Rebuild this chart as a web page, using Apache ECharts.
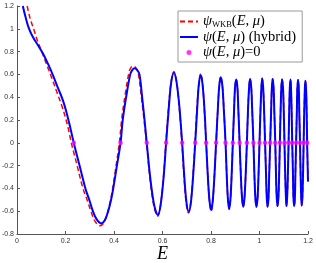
<!DOCTYPE html>
<html><head><meta charset="utf-8">
<script src="https://cdn.jsdelivr.net/npm/echarts@6/dist/echarts.min.js"></script>
<style>html,body{margin:0;padding:0;background:#fff}#c{width:316px;height:263px}</style>
</head><body><div id="c"></div>
<script>
// Axis ticks
const xTicks = [0, 0.2, 0.4, 0.6, 0.8, 1, 1.2];
const yTicks = [-0.8, -0.6, -0.4, -0.2, 0, 0.2, 0.4, 0.6, 0.8, 1, 1.2];

// psi(E, mu) (hybrid) — blue solid
const hybridE = [
  0.024, 0.035, 0.049, 0.065, 0.086, 0.107, 0.127, 0.148, 0.168, 0.189, 0.205, 0.220, 0.234,
  0.247, 0.258, 0.282, 0.298, 0.313, 0.328, 0.347, 0.362, 0.376, 0.388, 0.397, 0.412, 0.427,
  0.436, 0.450, 0.467, 0.476, 0.485, 0.495, 0.505, 0.516, 0.526, 0.535,
  0.550, 0.566, 0.581, 0.592, 0.604, 0.615,
  0.626, 0.636, 0.647, 0.658, 0.670, 0.681,
  0.690, 0.699, 0.708, 0.717, 0.726, 0.735,
  0.743, 0.750, 0.758, 0.765, 0.773, 0.780,
  0.787, 0.794, 0.801, 0.807, 0.814, 0.821,
  0.828, 0.834, 0.840, 0.847, 0.853, 0.860,
  0.865, 0.870, 0.875, 0.880, 0.885, 0.890,
  0.895, 0.899, 0.904, 0.909, 0.913, 0.918,
  0.923, 0.928, 0.933, 0.938, 0.943, 0.948,
  0.9525, 0.957, 0.961, 0.966, 0.970, 0.975,
  0.979, 0.983, 0.987, 0.992, 0.996, 1.000,
  1.004, 1.008, 1.011, 1.015, 1.019, 1.023,
  1.027, 1.030, 1.033, 1.037, 1.040, 1.044,
  1.048, 1.051, 1.054, 1.058, 1.061, 1.065,
  1.068, 1.071, 1.074, 1.078, 1.081, 1.084,
  1.087, 1.090, 1.093, 1.097, 1.100, 1.103,
  1.106, 1.109, 1.111, 1.114, 1.117, 1.120,
  1.1225, 1.125, 1.128, 1.130, 1.1325, 1.135,
  1.138, 1.140, 1.143, 1.146, 1.148, 1.151,
  1.154, 1.156, 1.159, 1.162, 1.164, 1.167,
  1.1695, 1.172, 1.174, 1.177, 1.1795, 1.182,
  1.1845, 1.187, 1.189, 1.192, 1.1945, 1.1965, 1.200
];
const hybridPsi = [
  1.20, 1.105, 1.003, 0.930, 0.857, 0.784, 0.696, 0.594, 0.486, 0.375, 0.26, 0.13, 0,
  -0.11, -0.2, -0.4, -0.5, -0.6, -0.67, -0.707, -0.68, -0.6, -0.5, -0.4, -0.2, 0,
  0.2, 0.4, 0.6, 0.64, 0.653, 0.64, 0.6, 0.4, 0.2, 0,
  -0.317, -0.549, -0.634, -0.549, -0.317, 0,
  0.307, 0.532, 0.614, 0.532, 0.307, 0,
  -0.30, -0.524, -0.605, -0.524, -0.30, 0,
  0.297, 0.514, 0.594, 0.514, 0.297, 0,
  -0.295, -0.511, -0.59, -0.511, -0.295, 0,
  0.287, 0.497, 0.574, 0.497, 0.287, 0,
  -0.29, -0.501, -0.579, -0.501, -0.29, 0,
  0.278, 0.482, 0.556, 0.482, 0.278, 0,
  -0.28, -0.485, -0.56, -0.485, -0.28, 0,
  0.28, 0.485, 0.56, 0.485, 0.28, 0,
  -0.28, -0.485, -0.56, -0.485, -0.28, 0,
  0.28, 0.49, 0.565, 0.49, 0.28, 0,
  -0.28, -0.485, -0.56, -0.485, -0.28, 0,
  0.28, 0.485, 0.56, 0.485, 0.28, 0,
  -0.278, -0.48, -0.555, -0.48, -0.278, 0,
  0.278, 0.48, 0.555, 0.48, 0.278, 0,
  -0.278, -0.48, -0.555, -0.48, -0.278, 0,
  0.278, 0.48, 0.555, 0.48, 0.278, 0,
  -0.278, -0.48, -0.555, -0.48, -0.278, 0,
  0.275, 0.476, 0.55, 0.476, 0.275, 0,
  -0.275, -0.476, -0.55, -0.476, -0.275, 0,
  0.272, 0.472, 0.545, 0.472, 0.272, 0, -0.34
];

// psi_WKB(E, mu) — red dashed
const wkbE = [
  0.042, 0.054, 0.068, 0.086, 0.104, 0.123, 0.144, 0.164, 0.184, 0.200, 0.2125, 0.224,
  0.236, 0.248, 0.272, 0.289, 0.305, 0.322, 0.343, 0.358, 0.372, 0.384, 0.393, 0.408, 0.422,
  0.432, 0.446, 0.462, 0.470, 0.479, 0.489, 0.500, 0.513, 0.524, 0.534,
  0.549, 0.565, 0.580, 0.591, 0.603, 0.614,
  0.625, 0.636, 0.647, 0.658, 0.669, 0.680,
  0.689, 0.698, 0.707, 0.716, 0.725, 0.734,
  0.742, 0.750, 0.757, 0.765, 0.772, 0.780,
  0.787, 0.794, 0.801, 0.807, 0.814, 0.821,
  0.828, 0.834, 0.840, 0.847, 0.853, 0.860,
  0.865, 0.870, 0.875, 0.880, 0.885, 0.890,
  0.895, 0.899, 0.904, 0.909, 0.913, 0.918,
  0.923, 0.928, 0.933, 0.938, 0.943, 0.948,
  0.9525, 0.957, 0.961, 0.966, 0.970, 0.975,
  0.979, 0.983, 0.987, 0.992, 0.996, 1.000,
  1.004, 1.008, 1.011, 1.015, 1.019, 1.023,
  1.027, 1.030, 1.033, 1.037, 1.040, 1.044,
  1.048, 1.051, 1.054, 1.058, 1.061, 1.065,
  1.068, 1.071, 1.074, 1.078, 1.081, 1.084,
  1.087, 1.090, 1.093, 1.097, 1.100, 1.103,
  1.106, 1.109, 1.111, 1.114, 1.117, 1.120,
  1.1225, 1.125, 1.128, 1.130, 1.1325, 1.135,
  1.138, 1.140, 1.143, 1.146, 1.148, 1.151,
  1.154, 1.156, 1.159, 1.162, 1.164, 1.167,
  1.1695, 1.172, 1.174, 1.177, 1.1795, 1.182,
  1.1845, 1.187, 1.189, 1.192, 1.1945, 1.1965, 1.200
];
const wkbPsi = [
  1.20, 1.091, 1.003, 0.886, 0.79, 0.682, 0.565, 0.447, 0.33, 0.22, 0.115, 0,
  -0.1, -0.2, -0.4, -0.5, -0.6, -0.69, -0.728, -0.70, -0.62, -0.52, -0.42, -0.21, 0,
  0.21, 0.42, 0.62, 0.66, 0.672, 0.66, 0.61, 0.4, 0.2, 0,
  -0.325, -0.56, -0.645, -0.56, -0.325, 0,
  0.313, 0.541, 0.625, 0.541, 0.313, 0,
  -0.308, -0.533, -0.615, -0.533, -0.308, 0,
  0.303, 0.524, 0.605, 0.524, 0.303, 0,
  -0.30, -0.52, -0.60, -0.52, -0.30, 0,
  0.291, 0.504, 0.582, 0.504, 0.291, 0,
  -0.293, -0.507, -0.585, -0.507, -0.293, 0,
  0.28, 0.485, 0.56, 0.485, 0.28, 0,
  -0.282, -0.488, -0.563, -0.488, -0.282, 0,
  0.282, 0.488, 0.563, 0.488, 0.282, 0,
  -0.282, -0.488, -0.563, -0.488, -0.282, 0,
  0.282, 0.49, 0.566, 0.49, 0.282, 0,
  -0.281, -0.486, -0.561, -0.486, -0.281, 0,
  0.281, 0.486, 0.561, 0.486, 0.281, 0,
  -0.279, -0.482, -0.557, -0.482, -0.279, 0,
  0.279, 0.482, 0.557, 0.482, 0.279, 0,
  -0.279, -0.482, -0.557, -0.482, -0.279, 0,
  0.279, 0.482, 0.557, 0.482, 0.279, 0,
  -0.279, -0.482, -0.557, -0.482, -0.279, 0,
  0.276, 0.478, 0.552, 0.478, 0.276, 0,
  -0.276, -0.478, -0.552, -0.478, -0.276, 0,
  0.273, 0.473, 0.546, 0.473, 0.273, 0, -0.34
];

// psi(E, mu) = 0 — magenta dots
const zeroE = [0.234, 0.427, 0.535, 0.615, 0.681, 0.735, 0.780, 0.821, 0.860, 0.890,
  0.918, 0.948, 0.975, 1.000, 1.023, 1.044, 1.065, 1.084, 1.103, 1.120,
  1.135, 1.151, 1.167, 1.182, 1.197];
const zeroPsi = [0, 0, 0, 0, 0, 0, 0, 0, 0, 0, 0, 0, 0, 0, 0, 0, 0, 0, 0, 0, 0, 0, 0, 0, 0];

const pairs = (xs, ys) => xs.map((x, i) => [x, ys[i]]);

const SERIF = '"Liberation Serif", "DejaVu Serif", serif';
const LBL = '"Liberation Sans", Arial, sans-serif';
const FS = 14.5;

const chart = echarts.init(document.getElementById('c'), null, {renderer: 'canvas'});
chart.setOption({
  animation: false,
  backgroundColor: '#fff',
  grid: {left: 17, right: 8, top: 6, bottom: 29, containLabel: false, outerBoundsMode: 'none'},
  xAxis: {
    type: 'value',
    min: xTicks[0], max: xTicks[xTicks.length - 1], interval: 0.2,
    name: 'E', nameLocation: 'middle', nameGap: 11, nameMoveOverlap: false,
    nameTextStyle: {fontFamily: SERIF, fontStyle: 'italic', fontSize: 18, color: '#000', lineHeight: 18},
    axisLine: {show: true, onZero: false, lineStyle: {color: '#555', width: 1}},
    axisTick: {show: true, inside: true, length: 3, lineStyle: {color: '#555'}},
    axisLabel: {fontSize: 7, color: '#333', fontFamily: LBL, margin: 4},
    splitLine: {show: false}
  },
  yAxis: {
    type: 'value',
    min: yTicks[0], max: yTicks[yTicks.length - 1], interval: 0.2,
    axisLine: {show: true, onZero: false, lineStyle: {color: '#555', width: 1}},
    axisTick: {show: true, inside: true, length: 3, lineStyle: {color: '#555'}},
    axisLabel: {fontSize: 7, color: '#333', fontFamily: LBL, margin: 3},
    splitLine: {show: false}
  },
  legend: {
    left: 178, top: 11, orient: 'vertical',
    itemWidth: 18, itemHeight: 5, itemGap: 0.5,
    padding: [3, 6, 2, 1],
    backgroundColor: '#fff', borderColor: '#9a9a9a', borderWidth: 1, borderRadius: 0,
    data: [
      {name: 'wkb', itemStyle: {opacity: 0, color: 'rgba(0,0,0,0)', borderWidth: 0}},
      {name: 'hybrid', itemStyle: {opacity: 0, color: 'rgba(0,0,0,0)', borderWidth: 0}},
      {name: 'zero'}
    ],
    formatter: function (name) {
      if (name === 'wkb') return '{i|ψ}{s|WKB}{r|(}{i|E}{r|, }{i|μ}{r|)}';
      if (name === 'hybrid') return '{i|ψ}{r|(}{i|E}{r|, }{i|μ}{r|) (hybrid)}';
      return '{i|ψ}{r|(}{i|E}{r|, }{i|μ}{r|)=0}';
    },
    textStyle: {
      color: '#000', fontSize: FS, fontFamily: SERIF, lineHeight: 14,
      rich: {
        i: {fontFamily: SERIF, fontStyle: 'italic', fontSize: FS, lineHeight: 14, color: '#000'},
        r: {fontFamily: SERIF, fontSize: FS, lineHeight: 14, color: '#000'},
        s: {fontFamily: SERIF, fontSize: 8.5, lineHeight: 6, color: '#000', padding: [6, 0, 0, 0]}
      }
    }
  },
  series: [
    {
      name: 'wkb', type: 'line', data: pairs(wkbE, wkbPsi),
      symbol: 'none', showSymbol: false, smooth: 0.35,
      lineStyle: {color: '#ff0000', width: 1.5, type: [5, 3]},
      itemStyle: {color: '#ff0000'}, z: 2
    },
    {
      name: 'hybrid', type: 'line', data: pairs(hybridE, hybridPsi),
      symbol: 'none', showSymbol: false, smooth: 0.35,
      lineStyle: {color: '#0000ff', width: 2},
      itemStyle: {color: '#0000ff'}, z: 3
    },
    {
      name: 'zero', type: 'scatter', data: pairs(zeroE, zeroPsi),
      symbol: 'circle', symbolSize: 4.5,
      itemStyle: {color: '#ff00ff'}, z: 4
    }
  ]
});
</script>
</body></html>
